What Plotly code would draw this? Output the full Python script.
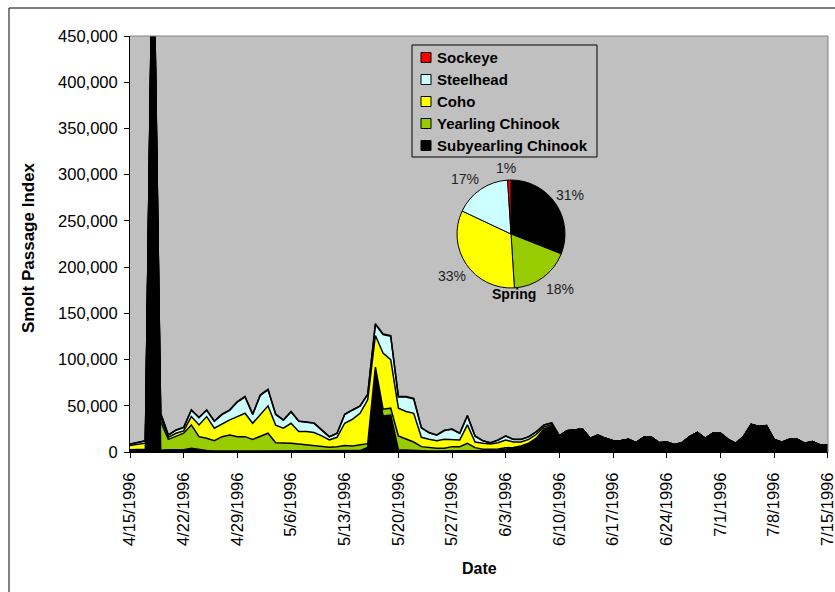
import pandas as pd
import plotly.graph_objects as go

# daily smolt passage index, 4/15/1996 - 7/15/1996
dates = pd.date_range("1996-04-15", "1996-07-15", freq="D")

subyearling = [
    1200, 1300, 1500, 590000, 2000, 2500, 2500, 2500, 4000, 2500,
    1500, 1000, 1000, 1000, 1000, 1000, 1000, 1000, 1000, 800,
    800, 800, 800, 800, 800, 800, 800, 800, 1000, 1000,
    1500, 5000, 88800, 39000, 40000, 2500, 2000, 1500, 1000, 1000,
    1000, 1000, 1000, 1000, 1500, 1500, 1500, 1500, 2000, 3000,
    4000, 5500, 8500, 14000, 24500, 27500,
    17400, 23100, 23900, 24900, 14800, 18400, 14800, 12300, 12300, 13700,
    10100, 15900, 15900, 10100, 10800, 8000, 10100, 16600, 21300, 14800,
    20300, 20300, 13700, 9400, 16600, 29900, 27500, 28600, 13700, 10500,
    13700, 13700, 9400, 11200, 7600, 7600,
]
yearling = [
    1300, 1500, 1500, 5000, 31000, 11200, 14100, 17800, 25300, 14100,
    13300, 11300, 15600, 17400, 15600, 15600, 12700, 15600, 19300, 9300,
    9300, 8600, 7900, 6800, 6100, 5000, 4300, 5000, 5900, 5500,
    6100, 4000, 3200, 7300, 7400, 14900, 12100, 9300, 4800, 3700,
    3000, 3000, 4800, 4800, 7900, 3200, 1500, 1500, 1300, 1500,
    1000, 1000, 1000, 1000, 500, 500,
    0, 0, 0, 0, 0, 0, 0, 0, 0, 0, 0, 0, 0, 0, 0, 0, 0, 0,
    0, 0, 0, 0, 0, 0, 0, 0, 0, 0, 0, 0, 0, 0, 0, 0, 0, 0,
]
coho = [
    4500, 5200, 6500, 3000, 5000, 2200, 3700, 2500, 9000, 12700,
    23500, 13400, 13800, 16300, 21700, 25300, 17400, 24400, 29600, 18800,
    15600, 21700, 13400, 14500, 14100, 11600, 7900, 10100, 24200, 28900,
    34300, 47400, 34000, 60700, 52600, 30000, 29700, 31100, 10100, 9000,
    8300, 9700, 7900, 7200, 19900, 6100, 6400, 5700, 6800, 8500,
    5800, 4300, 4200, 4200, 2100, 1500,
    0, 0, 0, 0, 0, 0, 0, 0, 0, 0, 0, 0, 0, 0, 0, 0, 0, 0,
    0, 0, 0, 0, 0, 0, 0, 0, 0, 0, 0, 0, 0, 0, 0, 0, 0, 0,
]
steelhead = [
    1400, 1800, 2500, 2000, 3600, 2200, 3300, 3600, 6800, 7800,
    6800, 7500, 10000, 10400, 15700, 17600, 9400, 20300, 17300, 11600,
    8600, 12200, 11000, 10000, 10100, 6200, 3300, 4100, 9400, 9800,
    7600, 5700, 12100, 19900, 25200, 12100, 15700, 15500, 10100, 7000,
    5800, 9500, 10800, 7000, 9800, 6300, 2700, 1200, 2700, 4200,
    2700, 2700, 2700, 2700, 2100, 1900,
    0, 0, 0, 0, 0, 0, 0, 0, 0, 0, 0, 0, 0, 0, 0, 0, 0, 0,
    0, 0, 0, 0, 0, 0, 0, 0, 0, 0, 0, 0, 0, 0, 0, 0, 0, 0,
]
sockeye = [
    300, 300, 300, 300, 400, 300, 300, 400, 500, 500,
    500, 400, 500, 500, 600, 600, 500, 600, 700, 500,
    400, 500, 500, 400, 400, 300, 300, 300, 400, 400,
    400, 500, 800, 800, 800, 600, 600, 600, 400, 300,
    300, 300, 400, 300, 400, 300, 200, 200, 200, 200,
    200, 200, 200, 200, 100, 100,
    0, 0, 0, 0, 0, 0, 0, 0, 0, 0, 0, 0, 0, 0, 0, 0, 0, 0,
    0, 0, 0, 0, 0, 0, 0, 0, 0, 0, 0, 0, 0, 0, 0, 0, 0, 0,
]

# spring composition (percent)
pie_labels = ["Subyearling Chinook", "Yearling Chinook", "Coho", "Steelhead", "Sockeye"]
pie_pct = [31, 18, 33, 17, 1]

colors = {
    "Sockeye": "#FF0000",
    "Steelhead": "#CCFFFF",
    "Coho": "#FFFF00",
    "Yearling Chinook": "#99CC00",
    "Subyearling Chinook": "#000000",
}
legend_order = ["Sockeye", "Steelhead", "Coho", "Yearling Chinook", "Subyearling Chinook"]

W, H = 835, 592
L, R, T, B = 130, 7, 36, 140
PW, PH = W - L - R, H - T - B
FONT = "Liberation Sans, Arial, sans-serif"


def px_x(x):
    return (x - L) / PW


def px_y(y):
    return (H - B - y) / PH


fig = go.Figure()

stack = [
    ("Subyearling Chinook", subyearling),
    ("Yearling Chinook", yearling),
    ("Coho", coho),
    ("Steelhead", steelhead),
    ("Sockeye", sockeye),
]
for name, vals in stack:
    fig.add_trace(go.Scatter(
        x=dates, y=vals, name=name, mode="lines",
        stackgroup="fish", fillcolor=colors[name],
        line=dict(color="black", width=1.5),
        showlegend=False,
    ))

fig.add_trace(go.Pie(
    labels=pie_labels, values=pie_pct, sort=False,
    direction="clockwise", rotation=0,
    marker=dict(colors=[colors[n] for n in pie_labels],
                line=dict(color="black", width=1)),
    textinfo="none",
    domain=dict(x=[px_x(457), px_x(565)], y=[px_y(288), px_y(180)]),
    showlegend=False, hoverinfo="label+percent",
))

shapes = [
    # outer chart border
    dict(type="rect", xref="paper", yref="paper",
         x0=px_x(9), x1=px_x(850), y0=px_y(610), y1=px_y(8),
         line=dict(color="black", width=1)),
    # plot area top and right edges
    dict(type="line", xref="paper", yref="paper", x0=0, x1=1, y0=1, y1=1,
         line=dict(color="#808080", width=1)),
    dict(type="line", xref="paper", yref="paper", x0=1, x1=1, y0=0, y1=1,
         line=dict(color="#808080", width=1)),
    # legend box
    dict(type="rect", xref="paper", yref="paper",
         x0=px_x(412), x1=px_x(597), y0=px_y(157), y1=px_y(45),
         fillcolor="#C0C0C0", line=dict(color="black", width=1)),
]
annotations = []
for i, name in enumerate(legend_order):
    cy = 57.5 + 22 * i
    shapes.append(dict(type="rect", xref="paper", yref="paper",
                       x0=px_x(421), x1=px_x(431), y0=px_y(cy + 5), y1=px_y(cy - 5),
                       fillcolor=colors[name], line=dict(color="black", width=1)))
    annotations.append(dict(xref="paper", yref="paper", x=px_x(435), y=px_y(cy),
                            xanchor="left", yanchor="middle", showarrow=False,
                            text="<b>%s</b>" % name,
                            font=dict(family=FONT, size=15, color="black")))

# percent labels around the pie (same order as pie_labels)
pie_label_pos = [(570, 195), (560, 289), (452, 276), (464.5, 179), (506, 168)]
for v, (lx, ly) in zip(pie_pct, pie_label_pos):
    annotations.append(dict(xref="paper", yref="paper", x=px_x(lx), y=px_y(ly),
                            xanchor="center", yanchor="middle", showarrow=False,
                            text="%d%%" % v,
                            font=dict(family=FONT, size=14, color="#222222")))

annotations += [
    dict(xref="paper", yref="paper", x=px_x(514), y=px_y(294), showarrow=False,
         xanchor="center", yanchor="middle", text="<b>Spring</b>",
         font=dict(family=FONT, size=14, color="black")),
    dict(xref="paper", yref="paper", x=px_x(28), y=px_y(247), showarrow=False,
         xanchor="center", yanchor="middle", textangle=-90,
         text="<b>Smolt Passage Index</b>",
         font=dict(family=FONT, size=17, color="black")),
    dict(xref="paper", yref="paper", x=px_x(479), y=px_y(568), showarrow=False,
         xanchor="center", yanchor="middle", text="<b>Date</b>",
         font=dict(family=FONT, size=16, color="black")),
]

fig.update_layout(
    width=W, height=H,
    margin=dict(l=L, r=R, t=T, b=B, autoexpand=False),
    paper_bgcolor="white", plot_bgcolor="#C0C0C0",
    font=dict(family=FONT, size=16, color="black"),
    shapes=shapes, annotations=annotations,
    xaxis=dict(
        type="date", range=["1996-04-15", "1996-07-15 00:40"],
        tick0="1996-04-15", dtick=7 * 86400000, tickformat="%-m/%-d/%Y",
        tickangle=-90, ticks="outside", ticklen=5, tickcolor="black",
        ticklabelstandoff=8, ticklabeloverflow="allow",
        showline=True, linecolor="black", linewidth=1,
        showgrid=False, zeroline=False, automargin=False,
        tickfont=dict(family=FONT, size=16.5, color="black"),
    ),
    yaxis=dict(
        range=[0, 450000], dtick=50000, tickformat=",d",
        ticks="outside", ticklen=5, tickcolor="black",
        ticklabelstandoff=3,
        showline=True, linecolor="black", linewidth=1,
        showgrid=False, zeroline=False, automargin=False,
        tickfont=dict(family=FONT, size=16.5, color="black"),
    ),
)

# drop the default page margin so the figure sits at the window origin
fig.write_html("out.html",
               config={"displayModeBar": False},
               post_script="document.body.style.margin='0';"
                           "document.body.style.overflow='hidden';")
